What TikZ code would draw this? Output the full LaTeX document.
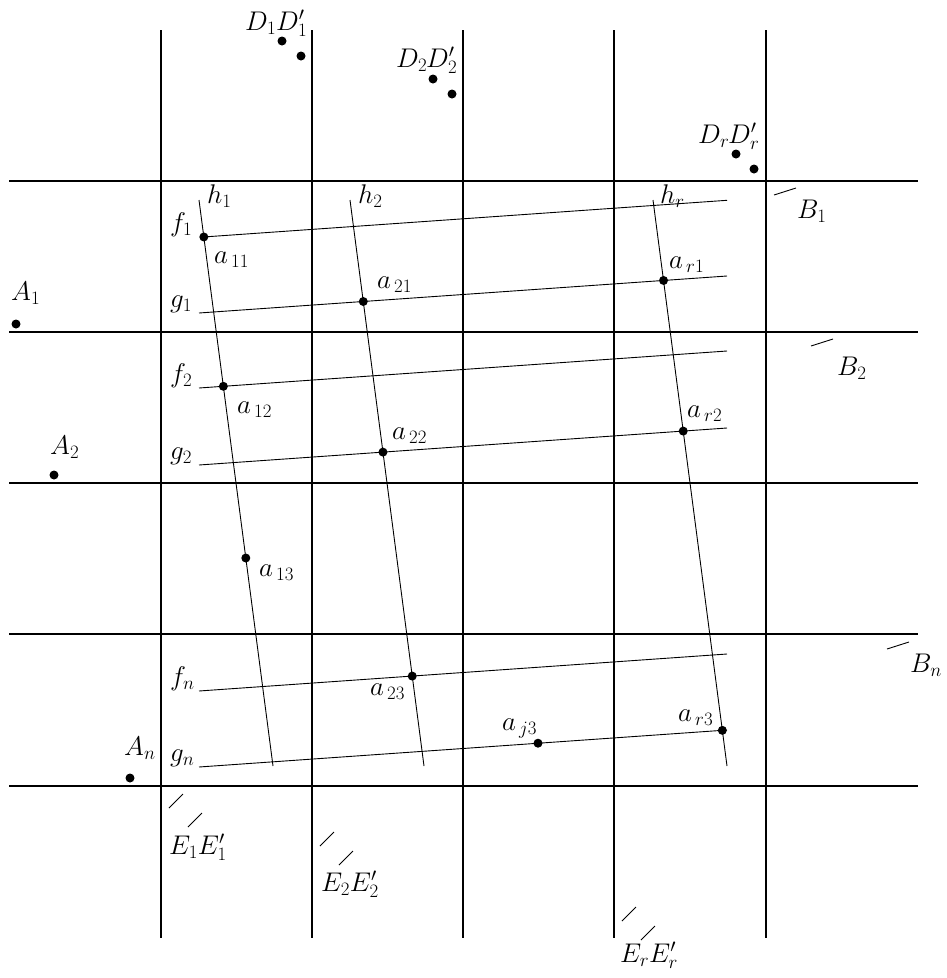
\RequirePackage{fix-cm}
\documentclass[tikz,border=0pt]{standalone}
\begin{document}
\begin{tikzpicture}[x=1pt,y=-1pt,
  gridv/.style={line width=2pt},
  gridh/.style={line width=2pt},
  gridhb/.style={line width=2.8pt},
  thinline/.style={line width=0.9pt},
  dot/.style={circle,fill=black,inner sep=0pt,minimum size=9pt},
  lab/.style={inner sep=0pt,anchor=base west,font=\fontsize{27}{32}\selectfont}]
\useasboundingbox (0,0) rectangle (947,978);
% grid
\foreach \x [count=\i] in {161,312,463,614,766} {
  \coordinate (vt\i) at (\x,30); \coordinate (vb\i) at (\x,938);
  \draw[gridv] (vt\i) -- (vb\i);}
\foreach \y/\s [count=\i] in {181/gridh,332/gridhb,483/gridhb,634/gridhb,786/gridh} {
  \coordinate (hl\i) at (9,\y); \coordinate (hr\i) at (918,\y);
  \draw[\s] (hl\i) -- (hr\i);}
% h lines
\foreach \n/\x in {1/199,2/350,r/653} {
  \coordinate (h\n s) at (\x,200); \coordinate (h\n e) at ({\x+74},766);
  \draw[thinline] (h\n s) -- (h\n e);}
% f,g lines
\foreach \n/\y in {f1/237.3,g1/313,f2/388,g2/465,fn/691,gn/767} {
  \coordinate (\n s) at (199,\y); \coordinate (\n e) at (727,{\y-37});}
\draw[thinline] (g1s) -- (g1e);
\draw[thinline] (f2s) -- (f2e);
\draw[thinline] (g2s) -- (g2e);
\draw[thinline] (fns) -- (fne);
\draw[thinline] (gns) -- (gne);
% dots on lines
\node[dot] (a11) at (intersection of h1s--h1e and f1s--f1e) {};
\draw[thinline] (a11.center) -- (f1e);
\node[dot] (a21) at (intersection of h2s--h2e and g1s--g1e) {};
\node[dot] (ar1) at (intersection of hrs--hre and g1s--g1e) {};
\node[dot] (a12) at (intersection of h1s--h1e and f2s--f2e) {};
\node[dot] (a22) at (intersection of h2s--h2e and g2s--g2e) {};
\node[dot] (ar2) at (intersection of hrs--hre and g2s--g2e) {};
\node[dot] (a13) at (245.8,558) {};
\node[dot] (a23) at (intersection of h2s--h2e and fns--fne) {};
\node[dot] (aj3) at (538,743.2) {};
\node[dot] (ar3) at (intersection of hrs--hre and gns--gne) {};
% other dots
\node[dot] (D1) at (282,41) {};
\node[dot] (D1p) at (301,56) {};
\node[dot] (D2) at (433,79) {};
\node[dot] (D2p) at (452,94) {};
\node[dot] (Dr) at (736,154) {};
\node[dot] (Drp) at (754,169) {};
\node[dot] (A1) at (16,324) {};
\node[dot] (A2) at (54,475) {};
\node[dot] (An) at (130,778) {};
% short strokes
\foreach \n/\ax/\ay/\bx/\by in {b1/774/195/796/188, b2/811/346/833/339, bn/887/649/909/642,
  e1a/169/808/183/794, e1b/188/827/202/813, e2a/320/846/334/832, e2b/339/865/353/851,
  era/622/921/636/907, erb/641/940/655/926} {
  \coordinate (\n p) at (\ax,\ay); \coordinate (\n q) at (\bx,\by);
  \draw[thinline] (\n p) -- (\n q);}
% labels
\node[lab] (lh1) at (207,203) {$h_1$};
\node[lab] (lh2) at (358,203) {$h_2$};
\node[lab] (lhr) at (660,203) {$h_r$};
\node[lab] (lf1) at (170,231) {$f_1$};
\node[lab] (lg1) at (170,307) {$g_1$};
\node[lab] (lf2) at (170,382) {$f_2$};
\node[lab] (lg2) at (170,459) {$g_2$};
\node[lab] (lfn) at (170,685) {$f_n$};
\node[lab] (lgn) at (170,761) {$g_n$};
\node[lab] (la11) at (214,263) {$a_{\,11}$};
\node[lab] (la21) at (377,288) {$a_{\,21}$};
\node[lab] (lar1) at (669,268) {$a_{\,r1}$};
\node[lab] (la12) at (237,413) {$a_{\,12}$};
\node[lab] (la22) at (392,439) {$a_{\,22}$};
\node[lab] (lar2) at (687,417) {$a_{\,r2}$};
\node[lab] (la13) at (259,576) {$a_{\,13}$};
\node[lab] (la23) at (370,695) {$a_{\,23}$};
\node[lab] (laj3) at (502,730) {$a_{\,j3}$};
\node[lab] (lar3) at (678,721) {$a_{\,r3}$};
\node[lab] (lA1) at (11,300) {$A_1$};
\node[lab] (lA2) at (50,454) {$A_2$};
\node[lab] (lAn) at (124,755) {$A_n$};
\node[lab] (lB1) at (797,218) {$B_1$};
\node[lab] (lB2) at (837,375) {$B_2$};
\node[lab] (lBn) at (910,672) {$B_n$};
\node[lab] (lD1) at (245,30) {$D_1$};
\node[lab] (lD1p) at (276,30) {$D'_1$};
\node[lab] (lD2) at (396,67) {$D_2$};
\node[lab] (lD2p) at (426,67) {$D'_2$};
\node[lab] (lDr) at (698,143) {$D_r$};
\node[lab] (lDrp) at (728,143) {$D'_r$};
\node[lab] (lE1) at (169,854) {$E_1E'_1$};
\node[lab] (lE2) at (321,891) {$E_2E'_2$};
\node[lab] (lEr) at (620,962) {$E_rE'_r$};
\end{tikzpicture}
\end{document}
